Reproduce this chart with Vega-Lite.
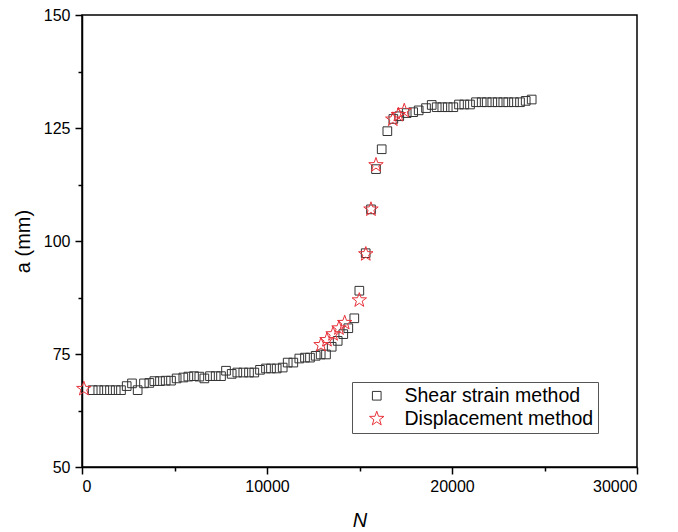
{
  "$schema": "https://vega.github.io/schema/vega-lite/v6.json",
  "autosize": {"type": "none"},
  "padding": {"left": 82, "top": 15, "right": 41, "bottom": 65},
  "width": 555,
  "height": 452,
  "background": "white",
  "config": {
    "view": {"stroke": "black", "strokeWidth": 1.5},
    "font": "Liberation Sans",
    "axis": {
      "domainColor": "black",
      "domainWidth": 1.5,
      "tickColor": "black",
      "tickWidth": 1.5,
      "labelFont": "Liberation Sans",
      "labelFontSize": 16,
      "labelColor": "black",
      "titleFont": "Liberation Sans",
      "titleFontSize": 20,
      "titleFontWeight": "normal",
      "titleColor": "black",
      "grid": false
    }
  },
  "data": {
    "values": [
      {"N": 578, "a": 67.0, "method": "Shear strain method"},
      {"N": 881, "a": 67.0, "method": "Shear strain method"},
      {"N": 1205, "a": 67.0, "method": "Shear strain method"},
      {"N": 1514, "a": 67.0, "method": "Shear strain method"},
      {"N": 1822, "a": 67.0, "method": "Shear strain method"},
      {"N": 2108, "a": 67.0, "method": "Shear strain method"},
      {"N": 2416, "a": 67.9, "method": "Shear strain method"},
      {"N": 2703, "a": 68.5, "method": "Shear strain method"},
      {"N": 3009, "a": 67.0, "method": "Shear strain method"},
      {"N": 3351, "a": 68.5, "method": "Shear strain method"},
      {"N": 3640, "a": 68.6, "method": "Shear strain method"},
      {"N": 3910, "a": 69.0, "method": "Shear strain method"},
      {"N": 4216, "a": 69.0, "method": "Shear strain method"},
      {"N": 4524, "a": 69.1, "method": "Shear strain method"},
      {"N": 4811, "a": 69.1, "method": "Shear strain method"},
      {"N": 5117, "a": 69.6, "method": "Shear strain method"},
      {"N": 5477, "a": 69.8, "method": "Shear strain method"},
      {"N": 5748, "a": 70.0, "method": "Shear strain method"},
      {"N": 6054, "a": 70.1, "method": "Shear strain method"},
      {"N": 6342, "a": 70.0, "method": "Shear strain method"},
      {"N": 6613, "a": 69.6, "method": "Shear strain method"},
      {"N": 6919, "a": 70.1, "method": "Shear strain method"},
      {"N": 7227, "a": 70.1, "method": "Shear strain method"},
      {"N": 7514, "a": 70.1, "method": "Shear strain method"},
      {"N": 7784, "a": 71.3, "method": "Shear strain method"},
      {"N": 8092, "a": 70.6, "method": "Shear strain method"},
      {"N": 8395, "a": 70.9, "method": "Shear strain method"},
      {"N": 8719, "a": 70.9, "method": "Shear strain method"},
      {"N": 9027, "a": 70.9, "method": "Shear strain method"},
      {"N": 9314, "a": 70.9, "method": "Shear strain method"},
      {"N": 9622, "a": 71.5, "method": "Shear strain method"},
      {"N": 9946, "a": 71.8, "method": "Shear strain method"},
      {"N": 10216, "a": 71.8, "method": "Shear strain method"},
      {"N": 10524, "a": 71.8, "method": "Shear strain method"},
      {"N": 10849, "a": 72.0, "method": "Shear strain method"},
      {"N": 11119, "a": 73.1, "method": "Shear strain method"},
      {"N": 11422, "a": 73.1, "method": "Shear strain method"},
      {"N": 11746, "a": 74.0, "method": "Shear strain method"},
      {"N": 12054, "a": 74.2, "method": "Shear strain method"},
      {"N": 12324, "a": 74.2, "method": "Shear strain method"},
      {"N": 12632, "a": 74.6, "method": "Shear strain method"},
      {"N": 12902, "a": 74.9, "method": "Shear strain method"},
      {"N": 13189, "a": 74.9, "method": "Shear strain method"},
      {"N": 13497, "a": 76.6, "method": "Shear strain method"},
      {"N": 13821, "a": 77.9, "method": "Shear strain method"},
      {"N": 14124, "a": 79.4, "method": "Shear strain method"},
      {"N": 14395, "a": 80.7, "method": "Shear strain method"},
      {"N": 14719, "a": 82.9, "method": "Shear strain method"},
      {"N": 14991, "a": 89.0, "method": "Shear strain method"},
      {"N": 15335, "a": 97.3, "method": "Shear strain method"},
      {"N": 15622, "a": 107.0, "method": "Shear strain method"},
      {"N": 15892, "a": 115.9, "method": "Shear strain method"},
      {"N": 16200, "a": 120.3, "method": "Shear strain method"},
      {"N": 16505, "a": 124.3, "method": "Shear strain method"},
      {"N": 16829, "a": 127.0, "method": "Shear strain method"},
      {"N": 17150, "a": 127.6, "method": "Shear strain method"},
      {"N": 17551, "a": 128.3, "method": "Shear strain method"},
      {"N": 17900, "a": 128.5, "method": "Shear strain method"},
      {"N": 18200, "a": 128.9, "method": "Shear strain method"},
      {"N": 18595, "a": 129.4, "method": "Shear strain method"},
      {"N": 18903, "a": 130.1, "method": "Shear strain method"},
      {"N": 19173, "a": 129.6, "method": "Shear strain method"},
      {"N": 19476, "a": 129.6, "method": "Shear strain method"},
      {"N": 19768, "a": 129.6, "method": "Shear strain method"},
      {"N": 20070, "a": 129.6, "method": "Shear strain method"},
      {"N": 20378, "a": 130.2, "method": "Shear strain method"},
      {"N": 20665, "a": 130.2, "method": "Shear strain method"},
      {"N": 20973, "a": 130.2, "method": "Shear strain method"},
      {"N": 21297, "a": 130.7, "method": "Shear strain method"},
      {"N": 21605, "a": 130.7, "method": "Shear strain method"},
      {"N": 21876, "a": 130.7, "method": "Shear strain method"},
      {"N": 22178, "a": 130.7, "method": "Shear strain method"},
      {"N": 22470, "a": 130.7, "method": "Shear strain method"},
      {"N": 22773, "a": 130.7, "method": "Shear strain method"},
      {"N": 23043, "a": 130.7, "method": "Shear strain method"},
      {"N": 23351, "a": 130.7, "method": "Shear strain method"},
      {"N": 23676, "a": 130.7, "method": "Shear strain method"},
      {"N": 23984, "a": 131.0, "method": "Shear strain method"},
      {"N": 24308, "a": 131.3, "method": "Shear strain method"},
      {"N": 100, "a": 67.3, "method": "Displacement method"},
      {"N": 12920, "a": 77.0, "method": "Displacement method"},
      {"N": 13240, "a": 78.1, "method": "Displacement method"},
      {"N": 13570, "a": 79.4, "method": "Displacement method"},
      {"N": 13890, "a": 80.7, "method": "Displacement method"},
      {"N": 14200, "a": 81.9, "method": "Displacement method"},
      {"N": 14990, "a": 86.9, "method": "Displacement method"},
      {"N": 15340, "a": 97.1, "method": "Displacement method"},
      {"N": 15620, "a": 107.0, "method": "Displacement method"},
      {"N": 15890, "a": 116.8, "method": "Displacement method"},
      {"N": 16800, "a": 126.9, "method": "Displacement method"},
      {"N": 17100, "a": 127.9, "method": "Displacement method"},
      {"N": 17420, "a": 128.8, "method": "Displacement method"}
    ]
  },
  "layer": [
    {
      "mark": {"type": "point", "opacity": 0},
      "encoding": {
        "x": {
          "field": "N",
          "type": "quantitative",
          "scale": {"domain": [0, 30000], "nice": false, "zero": false},
          "axis": {
            "orient": "bottom",
            "title": null,
            "values": [5000, 15000, 25000],
            "labels": false,
            "domain": false,
            "tickSize": 4
          }
        },
        "y": {
          "field": "a",
          "type": "quantitative",
          "scale": {"domain": [50, 150], "nice": false, "zero": false},
          "axis": {
            "orient": "left",
            "title": null,
            "values": [62.5, 87.5, 112.5, 137.5],
            "labels": false,
            "domain": false,
            "tickSize": 4
          }
        }
      }
    },
    {
      "mark": {"type": "point", "filled": false, "strokeWidth": 1, "opacity": 1},
      "encoding": {
        "x": {
          "field": "N",
          "type": "quantitative",
          "scale": {"domain": [0, 30000], "nice": false, "zero": false},
          "axis": {
            "orient": "bottom",
            "title": "N",
            "titleFontStyle": "italic",
            "values": [0, 10000, 20000, 30000],
            "format": "d",
            "tickSize": 7,
            "labelPadding": 4,
            "titlePadding": 16
          }
        },
        "y": {
          "field": "a",
          "type": "quantitative",
          "scale": {"domain": [50, 150], "nice": false, "zero": false},
          "axis": {
            "orient": "left",
            "title": "a (mm)",
            "values": [50, 75, 100, 125, 150],
            "format": "d",
            "tickSize": 7,
            "labelPadding": 5,
            "titlePadding": 10
          }
        },
        "shape": {
          "field": "method",
          "type": "nominal",
          "scale": {
            "domain": ["Shear strain method", "Displacement method"],
            "range": ["square", "M0,-1L0.235,-0.324L0.951,-0.309L0.38,0.124L0.588,0.809L0,0.4L-0.588,0.809L-0.38,0.124L-0.951,-0.309L-0.235,-0.324Z"]
          },
          "legend": {
            "title": null,
            "orient": "none",
            "legendX": 270,
            "legendY": 367,
            "fillColor": "white",
            "strokeColor": "#555555",
            "padding": 4,
            "labelFont": "Liberation Sans",
            "labelFontSize": 19.5,
            "labelLimit": 0,
            "labelColor": "black",
            "labelOffset": 18,
            "symbolOffset": 11,
            "rowPadding": 2,
            "symbolStrokeWidth": 1
          }
        },
        "color": {
          "field": "method",
          "type": "nominal",
          "scale": {"domain": ["Shear strain method", "Displacement method"], "range": ["#333333", "#e8323a"]}
        },
        "size": {
          "field": "method",
          "type": "nominal",
          "scale": {"domain": ["Shear strain method", "Displacement method"], "range": [75, 230]}
        }
      }
    }
  ],
  "resolve": {"axis": {"x": "independent", "y": "independent"}}
}
